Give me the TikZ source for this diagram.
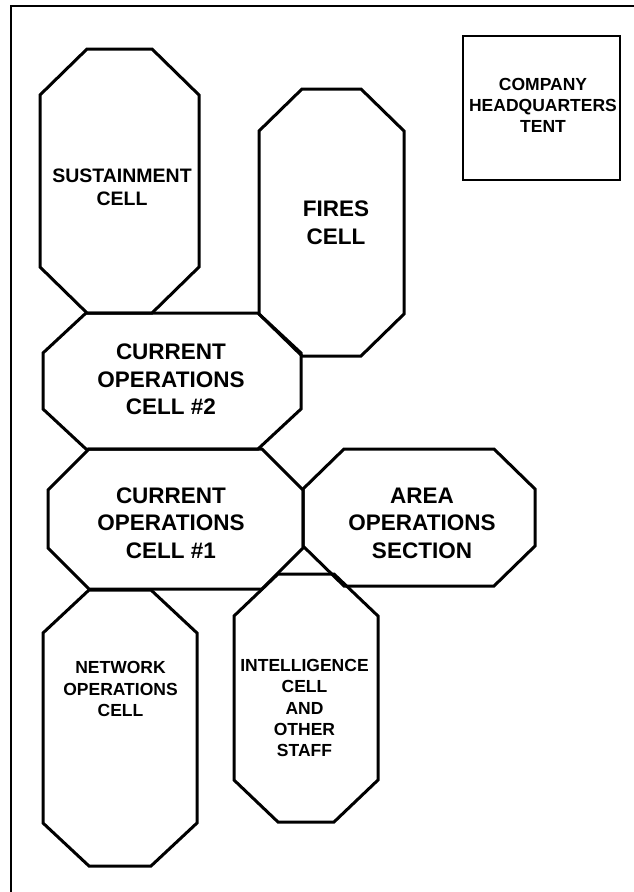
\documentclass[tikz,border=0pt]{standalone}
\usepackage{fontspec}
\setmainfont{Liberation Sans}
\begin{document}
\begin{tikzpicture}[x=1pt,y=-1pt,
  frameline/.style={line width=2pt,draw=black},
  cellline/.style={line width=3pt,draw=black,line join=miter},
  tentline/.style={line width=2pt,draw=black},
  bigtext/.style={inner sep=0pt,align=center,font=\fontsize{22.5}{27.5}\selectfont\bfseries},
  midtext/.style={inner sep=0pt,align=center,font=\fontsize{19.5}{23}\selectfont\bfseries},
  smalltext/.style={inner sep=0pt,align=center,font=\fontsize{17.5}{21.2}\selectfont\bfseries}]

% canvas
\useasboundingbox (0,0) rectangle (633,892);
\fill[white] (0,0) rectangle (633,892);

% outer frame (runs off the right and bottom edges)
\draw[frameline] (11,910) -- (11,6) -- (650,6);

% octagonal cell outline: left, top, right, bottom, corner dx, corner dy
\newcommand\cellshape[6]{%
  \draw[cellline] ({#1+#5},#2) -- ({#3-#5},#2) -- (#3,{#2+#6}) -- (#3,{#4-#6})
    -- ({#3-#5},#4) -- ({#1+#5},#4) -- (#1,{#4-#6}) -- (#1,{#2+#6}) -- cycle;}

\cellshape{40}{49}{199}{313}{47}{46}    % sustainment
\cellshape{259}{89}{404}{356}{43}{42}   % fires
\cellshape{43}{313}{301}{449}{43}{40}   % current ops 2
\cellshape{48}{449}{303}{589}{41}{41}   % current ops 1
\cellshape{303}{449}{535}{586}{41}{40}  % area ops
\cellshape{234}{574}{378}{822}{44}{42}  % intelligence
\cellshape{43}{590}{197}{866}{46}{43}   % network ops

% headquarters tent
\draw[tentline] (463,36) rectangle (620,180);

% labels
\node[midtext]   (sust)  at (122,187)   {SUSTAINMENT\\CELL};
\node[bigtext]   (fires) at (336,222.5) {FIRES\\CELL};
\node[smalltext] (hq)    at (543,105.5) {COMPANY\\HEADQUARTERS\\TENT};
\node[bigtext]   (cotwo) at (171,379.5) {CURRENT\\OPERATIONS\\CELL \#2};
\node[bigtext]   (coone) at (171,523)   {CURRENT\\OPERATIONS\\CELL \#1};
\node[bigtext]   (area)  at (422,523)   {AREA\\OPERATIONS\\SECTION};
\node[smalltext] (netops) at (120.5,689) {NETWORK\\OPERATIONS\\CELL};
\node[smalltext] (intel) at (304.5,708) {INTELLIGENCE\\CELL\\AND\\OTHER\\STAFF};
\end{tikzpicture}
\end{document}
